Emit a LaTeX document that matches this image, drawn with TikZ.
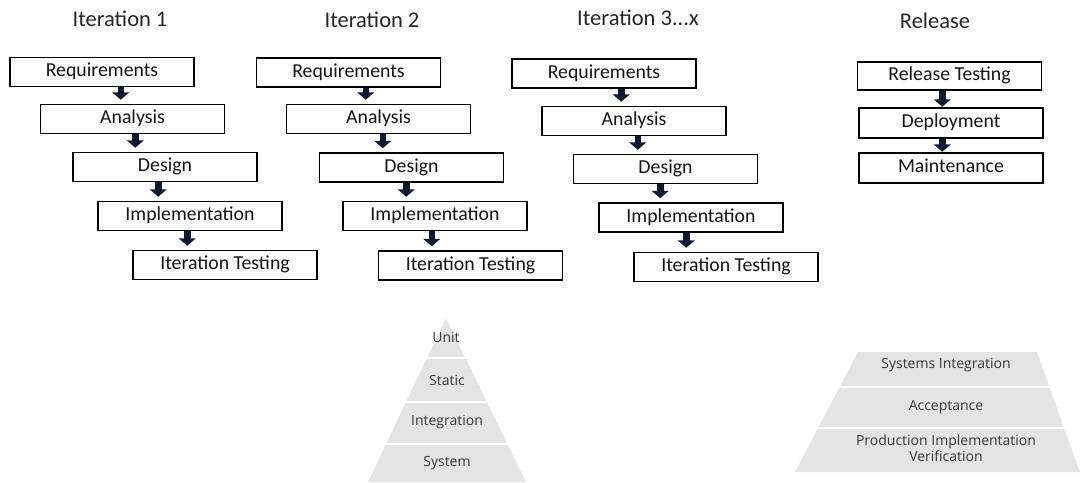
\documentclass[tikz,border=0pt]{standalone}
\usepackage{fontspec}
\setmainfont{Carlito}
\newfontfamily\layerfont{Open Sans}
\usetikzlibrary{arrows.meta,calc}

\definecolor{arrowblue}{HTML}{0E1830}
\definecolor{layergray}{HTML}{E4E4E4}

% block arrow from the bottom of box #1 down to box #2, at #3 pt from the left edge of #2,
% stopping #4 pt above it
\newcommand\stagearrow[4]{%
  \draw[flow] ($(#2.north west |- #1.south)+(#3,0)$) -- ($(#2.north west)+(#3,-#4)$);}

\begin{document}
\begin{tikzpicture}[x=1pt,y=-1pt,
  stage/.style={draw=black,line width=1.5pt,fill=white,minimum width=184pt,
    minimum height=29pt,inner sep=0pt,text height=13pt,text depth=4pt,
    font=\fontsize{19.8}{20}\selectfont,text=black!92},
  title/.style={anchor=base,font=\fontsize{22.5}{23}\selectfont,text=black!85},
  flow/.style={line width=6.5pt,draw=arrowblue,
    -{Triangle[width=17pt,length=7.5pt,fill=arrowblue]}},
  layer/.style={font=\layerfont\fontsize{14}{16}\selectfont,text=black!78},
  gap/.style={draw=white,line width=2pt}]

\useasboundingbox (0,0) rectangle (1087,482);

% column titles
\node[title] (t1) at (120,26) {Iteration 1};
\node[title] (t2) at (372,27) {Iteration 2};
\node[title] (t3) at (638,25) {Iteration 3...x};
\node[title] (t4) at (935,28) {Release};

% iteration 1
\node[stage] (req1) at (102,72)  {Requirements};
\node[stage] (ana1) at (132.5,119) {Analysis};
\node[stage] (des1) at (165,167) {Design};
\node[stage] (imp1) at (190,216) {Implementation};
\node[stage] (tst1) at (225,265) {Iteration Testing};

% iteration 2
\node[stage] (req2) at (348.5,72.5) {Requirements};
\node[stage] (ana2) at (378.5,119) {Analysis};
\node[stage] (des2) at (411.5,167.5) {Design};
\node[stage] (imp2) at (435,216) {Implementation};
\node[stage] (tst2) at (470.5,265.5) {Iteration Testing};

% iteration 3...x
\node[stage] (req3) at (604,73.5) {Requirements};
\node[stage] (ana3) at (634,121) {Analysis};
\node[stage] (des3) at (665.5,169) {Design};
\node[stage] (imp3) at (691,217.5) {Implementation};
\node[stage] (tst3) at (726,267) {Iteration Testing};

% release
\node[stage,minimum height=28pt] (rel) at (949.5,76) {Release Testing};
\node[stage,minimum height=30pt] (dep) at (951,123) {Deployment};
\node[stage,minimum height=30pt] (mnt) at (951,168) {Maintenance};

% flow arrows
\stagearrow{req1}{ana1}{81}{4}
\stagearrow{ana1}{des1}{63}{4}
\stagearrow{des1}{imp1}{61}{4}
\stagearrow{imp1}{tst1}{55}{4}

\stagearrow{req2}{ana2}{80}{4}
\stagearrow{ana2}{des2}{64}{4}
\stagearrow{des2}{imp2}{64}{4}
\stagearrow{imp2}{tst2}{54}{4}

\stagearrow{req3}{ana3}{80}{4}
\stagearrow{ana3}{des3}{65}{4}
\stagearrow{des3}{imp3}{62}{4}
\stagearrow{imp3}{tst3}{53}{4}

\stagearrow{rel}{dep}{84}{0.5}
\stagearrow{dep}{mnt}{84}{0.5}

% iteration test levels
\begin{scope}
  \clip (446,318) -- (526,482) -- (368,482) -- cycle;
  \fill[layergray] (446,318) -- (526,482) -- (368,482) -- cycle;
  \draw[gap] (360,358) -- (540,358);
  \draw[gap] (360,402) -- (540,402);
  \draw[gap] (360,444) -- (540,444);
\end{scope}
\node[layer] (l1) at (446,337) {Unit};
\node[layer] (l2) at (447,380) {Static};
\node[layer] (l3) at (447,422) {Integration};
\node[layer] (l4) at (447,463) {System};

% release test levels
\begin{scope}
  \clip (858,352) -- (1037,352) -- (1080,472) -- (795,472) -- cycle;
  \fill[layergray] (858,352) -- (1037,352) -- (1080,472) -- (795,472) -- cycle;
  \draw[gap] (790,387) -- (1087,387);
  \draw[gap] (790,428) -- (1087,428);
\end{scope}
\node[layer] (r1) at (946,365) {Systems Integration};
\node[layer] (r2) at (946,407) {Acceptance};
\node[layer,align=center] (r3) at (946,448.5) {Production Implementation\\Verification};

\end{tikzpicture}
\end{document}
